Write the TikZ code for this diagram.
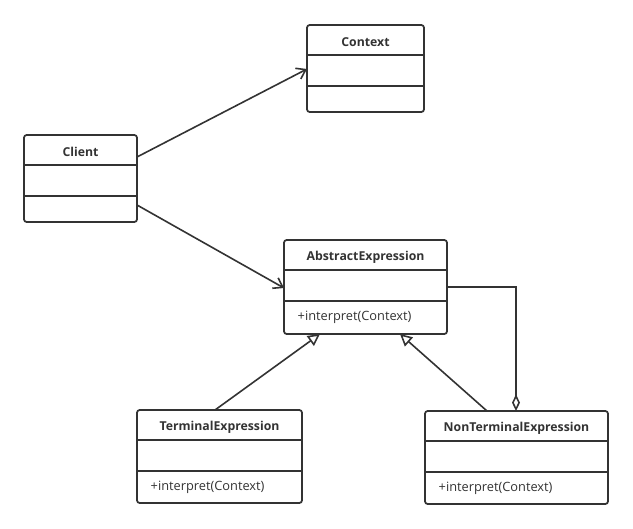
\documentclass[tikz,border=0pt]{standalone}
\usepackage{fontspec}
\setmainfont{Open Sans}
\usetikzlibrary{arrows.meta,calc}

\definecolor{umlgray}{HTML}{333333}

\tikzset{
    classbox/.style={draw=umlgray, line width=1.3pt, rounded corners=2pt, anchor=north west, inner sep=0pt, outer sep=0pt},
    classline/.style={draw=umlgray, line width=1.3pt},
    classtitle/.style={font=\fontsize{9.2}{11}\selectfont\bfseries, text=umlgray},
    classop/.style={font=\fontsize{9.6}{11}\selectfont, text=umlgray, anchor=west},
    assoc/.style={umlgray, line width=1.2pt, -{Straight Barb[length=6.5pt, width=9pt]}},
    inherit/.style={umlgray, line width=1.2pt, -{Triangle[open, length=9pt, width=9pt, fill=white]}},
    aggr/.style={umlgray, line width=1.2pt, {Diamond[open, length=12.5pt, width=6pt, fill=white]}-}
}

% name, x, y, width, height, title, operation
\newcommand{\umlclass}[7]{
    \node[classbox, minimum width=#4*0.75pt, minimum height=#5*0.75pt] (#1) at (#2,#3) {};
    \draw[classline] ($(#1.north west)+(0,30)$) -- ($(#1.north east)+(0,30)$);
    \draw[classline] ($(#1.north west)+(0,61)$) -- ($(#1.north east)+(0,61)$);
    \node[classtitle] (#1-title) at ($(#1.north)+(0,17)$) {#6};
    \node[classop] (#1-op) at ($(#1.north west)+(9,#5/2+30.5)$) {#7};
}

\begin{document}
\begin{tikzpicture}[x=0.75pt, y=-0.75pt]
    \useasboundingbox (0,0) rectangle (633,529);

    % Classes
    \umlclass{ctx}{307}{25}{117}{87}{Context}{}
    \umlclass{client}{24}{135}{113}{87}{Client}{}
    \umlclass{absexpr}{284}{240}{163}{94}{AbstractExpression}{+interpret(Context)}
    \umlclass{termexpr}{137}{410}{165}{93}{TerminalExpression}{+interpret(Context)}
    \umlclass{ntexpr}{425}{411}{183}{93}{NonTerminalExpression}{+interpret(Context)}

    % Associations from the client
    \draw[assoc] ($(client.north east)+(0,22)$) -- ($(ctx.north west)+(0,44)$);
    \draw[assoc] ($(client.north east)+(0,70)$) -- ($(absexpr.north west)+(0,48)$);

    % Generalisations
    \draw[inherit] ($(termexpr.north west)+(78,0)$) -- ($(absexpr.south west)+(36,0)$);
    \draw[inherit] ($(ntexpr.north west)+(62,0)$) -- ($(absexpr.south west)+(116,0)$);

    % Aggregation
    \draw[aggr] ($(ntexpr.north west)+(91,0)$) |- ($(absexpr.north east)+(0,47)$);
\end{tikzpicture}
\end{document}
